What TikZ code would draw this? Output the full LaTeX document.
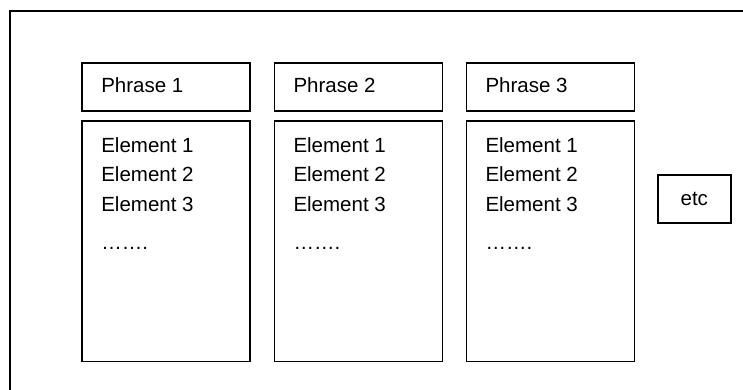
\documentclass[tikz,border=0pt]{standalone}
\usepackage{fontspec}
\setmainfont{Liberation Sans}
\begin{document}
\begin{tikzpicture}[x=1pt,y=-1pt,
  frame/.style={draw=black,line width=1.8pt,rectangle,inner sep=0pt},
  lbl/.style={anchor=base west,inner sep=0pt,font=\fontsize{20.5}{24}\selectfont},
  etclbl/.style={font=\fontsize{20.5}{24}\selectfont}]
\useasboundingbox (0,0) rectangle (743,390);
% outer page frame: only the top and left edges fall inside the picture
\coordinate (ftr) at (743,11);
\coordinate (ftl) at (10.3,11);
\coordinate (fbl) at (10.3,390);
\draw[line width=1.8pt] (ftr) -- (ftl) -- (fbl);
% three columns: a phrase header over a list of elements
\foreach \i/\cx in {1/166.3,2/358.5,3/550.5}{
  \node[frame,minimum width=168pt,minimum height=47.4pt] (p\i) at (\cx,87) {};
  \node[frame,minimum width=168pt,minimum height=240.5pt] (e\i) at (\cx,241.25) {};
  \node[lbl] (pt\i) at ([xshift=19.7pt]p\i.west |- 0,92.3) {Phrase \i};
  \node[lbl] (ea\i) at ([xshift=19.7pt]e\i.west |- 0,152.5) {Element 1};
  \node[lbl] (eb\i) at ([xshift=19.7pt]e\i.west |- 0,182) {Element 2};
  \node[lbl] (ec\i) at ([xshift=19.7pt]e\i.west |- 0,211.5) {Element 3};
  \node[lbl] (ed\i) at ([xshift=19.7pt]e\i.west |- 0,249) {…….};
}
% continuation marker
\node[frame,minimum width=72.7pt,minimum height=47.7pt,etclbl] (etc) at (694.3,198.9) {etc};
\end{tikzpicture}
\end{document}
